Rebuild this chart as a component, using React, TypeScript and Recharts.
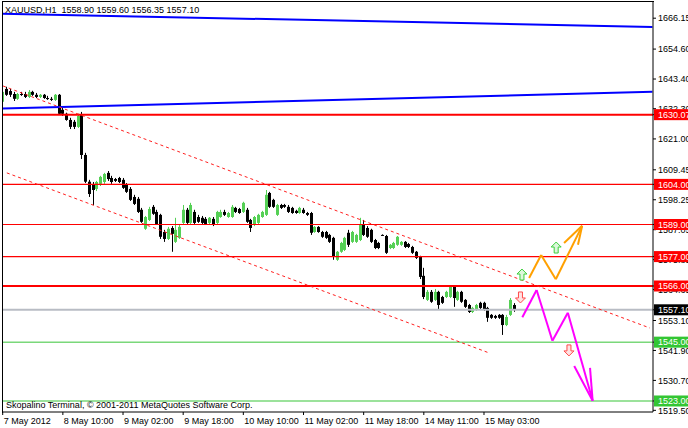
import React from "react";
import { ComposedChart, Bar, XAxis, YAxis, ReferenceLine, ReferenceDot } from "recharts";

const FONT = "'Liberation Sans', Arial, sans-serif";
const BULL = "#55d055";

// XAUUSD H1 bars, 7 May 18:00 .. 15 May 11:00 -> [open, high, low, close]
const ohlc: number[][] = [
  [1634.9, 1639.3, 1634.1, 1638.6], [1639.7, 1640.5, 1637.1, 1637.5], [1638.9, 1639.7, 1636.7, 1637.5],
  [1637.8, 1638.6, 1635.2, 1636.0], [1636.0, 1638.2, 1635.6, 1637.8], [1637.8, 1638.6, 1637.1, 1637.5],
  [1637.8, 1638.6, 1636.3, 1636.7], [1636.7, 1639.3, 1636.3, 1638.6], [1638.6, 1639.0, 1637.1, 1637.5],
  [1637.5, 1638.2, 1636.3, 1636.7], [1636.7, 1637.8, 1636.3, 1637.5], [1637.5, 1637.8, 1636.0, 1636.3],
  [1636.3, 1637.1, 1635.6, 1635.9], [1636.0, 1636.7, 1635.2, 1635.6], [1635.6, 1637.8, 1635.2, 1637.5],
  [1637.5, 1637.8, 1630.0, 1630.4], [1631.9, 1632.6, 1629.6, 1630.4], [1630.4, 1630.8, 1627.8, 1628.1],
  [1628.1, 1628.9, 1624.7, 1625.5], [1627.4, 1628.1, 1624.7, 1625.5], [1625.5, 1630.4, 1625.1, 1629.6],
  [1630.0, 1631.1, 1613.5, 1615.0], [1615.0, 1615.8, 1604.5, 1605.0], [1605.0, 1605.7, 1599.3, 1600.4],
  [1603.8, 1604.9, 1596.3, 1601.9], [1602.3, 1605.3, 1601.5, 1604.9], [1604.2, 1607.2, 1603.4, 1606.8],
  [1604.9, 1608.3, 1604.2, 1607.9], [1608.3, 1609.0, 1605.3, 1606.0], [1606.4, 1607.2, 1604.2, 1604.9],
  [1606.0, 1606.4, 1604.9, 1605.3], [1606.4, 1606.8, 1604.5, 1604.9], [1605.7, 1606.4, 1602.3, 1602.7],
  [1603.8, 1604.5, 1600.8, 1601.2], [1602.3, 1603.0, 1597.8, 1598.2], [1599.3, 1600.1, 1596.3, 1596.7],
  [1598.6, 1599.3, 1593.3, 1593.7], [1594.5, 1595.2, 1589.6, 1590.0], [1587.4, 1592.2, 1587.0, 1591.8],
  [1590.7, 1595.6, 1590.3, 1594.8], [1595.6, 1596.3, 1592.6, 1593.0], [1593.7, 1594.5, 1588.8, 1589.2],
  [1592.6, 1593.0, 1583.6, 1584.4], [1586.2, 1587.0, 1582.5, 1583.6], [1583.6, 1588.1, 1583.2, 1587.4],
  [1587.7, 1588.4, 1578.8, 1585.5], [1582.5, 1591.5, 1582.1, 1587.0], [1584.0, 1588.8, 1583.6, 1588.1],
  [1589.6, 1596.3, 1589.2, 1594.5], [1594.5, 1595.2, 1589.2, 1589.6], [1589.6, 1597.1, 1589.2, 1596.3],
  [1593.7, 1594.5, 1589.2, 1589.6], [1591.8, 1592.6, 1589.6, 1590.0], [1591.5, 1592.2, 1589.2, 1589.6],
  [1591.1, 1591.8, 1588.8, 1589.2], [1589.6, 1591.8, 1589.2, 1591.5], [1591.1, 1591.8, 1588.4, 1588.8],
  [1589.6, 1594.1, 1589.2, 1593.7], [1591.8, 1594.5, 1591.5, 1593.7], [1593.7, 1594.5, 1592.2, 1592.6],
  [1591.8, 1593.7, 1591.5, 1593.3], [1591.8, 1596.3, 1591.5, 1595.6], [1595.2, 1595.6, 1593.3, 1593.7],
  [1594.8, 1595.2, 1593.0, 1593.3], [1593.7, 1597.5, 1593.3, 1597.1], [1594.5, 1595.2, 1589.6, 1590.0],
  [1590.7, 1591.1, 1586.2, 1587.7], [1588.8, 1592.2, 1588.4, 1591.8], [1589.6, 1593.0, 1589.2, 1592.6],
  [1591.8, 1594.1, 1591.5, 1593.7], [1592.6, 1601.9, 1592.2, 1600.1], [1600.8, 1601.2, 1595.2, 1595.6],
  [1598.2, 1598.6, 1595.2, 1595.6], [1592.6, 1596.7, 1592.2, 1596.3], [1596.3, 1596.7, 1594.8, 1595.2],
  [1596.3, 1596.7, 1595.2, 1595.6], [1595.6, 1596.3, 1593.3, 1593.7], [1595.2, 1595.6, 1593.0, 1593.3],
  [1594.1, 1594.5, 1593.0, 1593.3], [1593.3, 1595.6, 1593.0, 1595.2], [1594.5, 1595.2, 1593.0, 1593.3],
  [1593.3, 1593.7, 1592.2, 1592.6], [1593.3, 1593.7, 1585.1, 1585.9], [1586.2, 1588.4, 1585.9, 1588.1],
  [1588.1, 1588.4, 1585.9, 1586.2], [1586.2, 1586.6, 1584.0, 1584.4], [1586.2, 1586.6, 1583.6, 1584.0],
  [1585.1, 1585.5, 1582.1, 1582.5], [1584.0, 1584.4, 1575.8, 1576.9], [1575.8, 1579.1, 1575.4, 1578.8],
  [1578.8, 1582.5, 1578.4, 1582.1], [1579.5, 1584.4, 1579.1, 1584.0], [1585.9, 1587.0, 1580.6, 1581.4],
  [1582.5, 1586.6, 1582.1, 1586.2], [1582.5, 1585.5, 1582.1, 1585.1], [1583.2, 1591.5, 1582.8, 1588.8],
  [1588.8, 1590.7, 1584.7, 1585.1], [1587.7, 1588.4, 1584.0, 1584.4], [1587.0, 1587.4, 1582.1, 1582.5],
  [1583.2, 1583.6, 1579.8, 1580.2], [1582.1, 1582.5, 1579.8, 1580.2], [1585.1, 1585.3, 1584.9, 1585.0],
  [1584.7, 1585.1, 1578.0, 1578.4], [1580.2, 1581.7, 1579.8, 1581.4], [1580.2, 1582.5, 1579.8, 1582.1],
  [1581.4, 1584.7, 1581.0, 1584.4], [1581.4, 1582.8, 1581.0, 1582.5], [1582.5, 1582.8, 1580.2, 1580.6],
  [1581.7, 1582.1, 1580.2, 1580.6], [1580.6, 1581.0, 1578.0, 1578.4], [1578.8, 1579.1, 1576.1, 1576.5],
  [1576.9, 1577.3, 1568.6, 1569.4], [1569.8, 1572.8, 1561.1, 1561.9], [1560.8, 1564.5, 1560.4, 1563.8],
  [1563.8, 1564.5, 1559.7, 1560.1], [1560.8, 1564.9, 1560.4, 1563.8], [1563.8, 1564.2, 1557.1, 1558.9],
  [1561.9, 1562.3, 1559.3, 1559.7], [1561.9, 1564.2, 1561.5, 1563.8], [1561.9, 1566.1, 1561.5, 1565.7],
  [1565.7, 1566.1, 1558.2, 1561.5], [1560.8, 1564.2, 1560.4, 1563.8], [1563.8, 1564.2, 1559.7, 1560.1],
  [1560.8, 1561.1, 1557.8, 1558.2], [1558.9, 1559.3, 1555.9, 1556.3], [1556.3, 1558.2, 1555.9, 1557.8],
  [1557.1, 1559.3, 1556.7, 1558.9], [1559.7, 1560.1, 1557.4, 1557.8], [1559.7, 1560.1, 1556.7, 1557.1],
  [1557.8, 1558.2, 1552.6, 1554.1], [1555.2, 1555.5, 1553.7, 1554.1], [1554.8, 1555.2, 1553.7, 1554.1],
  [1555.2, 1555.5, 1553.7, 1554.1], [1555.2, 1555.5, 1547.7, 1551.4], [1551.4, 1555.2, 1551.0, 1554.4],
  [1555.2, 1561.5, 1554.8, 1560.8], [1558.9, 1559.6, 1556.35, 1557.1],
];

const timeTicks = [0, 16, 32, 48, 64, 80, 96, 112, 128];
const timeLabels = ["7 May 2012", "8 May 10:00", "9 May 02:00", "9 May 18:00", "10 May 10:00", "11 May 02:00", "11 May 18:00", "14 May 11:00", "15 May 03:00"];

const priceTicks = [1666.15, 1654.6, 1643.4, 1632.3, 1621.0, 1609.45, 1598.25, 1587.05, 1575.85, 1564.65, 1553.1, 1541.9, 1530.7, 1519.5];

const resistanceLevels = [1630.07, 1604.0, 1589.0, 1577.0, 1566.0];
const heavyLevels = [1630.07, 1566.0];
const supportLevels = [1545.0, 1523.0];
const lastPrice = 1557.1;

// trend lines, bar index / price
const blueUpper = [{ i: -0.1, v: 1667.8 }, { i: 172.8, v: 1662.9 }];
const blueLower = [{ i: -0.1, v: 1632.4 }, { i: 172.8, v: 1638.6 }];
const channelUpper = [{ i: 0.1, v: 1640.8 }, { i: 172.1, v: 1550.3 }];
const channelLower = [{ i: 1.1, v: 1608.3 }, { i: 129.3, v: 1541.0 }];

const bullPath = [{ i: 140.0, v: 1569.0 }, { i: 143.2, v: 1577.6 }, { i: 147.1, v: 1568.5 }, { i: 154.1, v: 1588.5 }];
const bullHead = [{ i: 149.3, v: 1582.1 }, { i: 153.0, v: 1581.4 }];
const bearPath = [{ i: 138.2, v: 1554.3 }, { i: 142.0, v: 1564.5 }, { i: 146.2, v: 1545.5 }, { i: 150.3, v: 1556.0 }, { i: 156.9, v: 1523.1 }];
const bearHead = [{ i: 152.0, v: 1536.1 }, { i: 156.2, v: 1535.4 }];

const upArrows = [{ i: 138.1, v: 1570.1 }, { i: 147.2, v: 1580.2 }];
const downArrows = [{ i: 137.7, v: 1561.9 }, { i: 150.6, v: 1542.1 }];

const candles = ohlc.map(([o, h, l, c], i) => ({ i, o, h, l, c }));

const tagFor = (v: number) => {
  if (resistanceLevels.includes(v)) return { bg: "#ff0000", fg: "#fff" };
  if (supportLevels.includes(v)) return { bg: "#33c633", fg: "#fff" };
  if (v === lastPrice) return { bg: "#000", fg: "#fff" };
  return null;
};

const Candle = (props: any) => {
  const { x, y, width, height, payload } = props;
  if (!payload) return null;
  const { o, h, l, c } = payload;
  const top = Math.min(y, y + height);
  const bot = Math.max(y, y + height);
  const px = (v: number) => (h === l ? top : top + ((h - v) / (h - l)) * (bot - top));
  const cx = Math.round(x + width / 2) + 0.5;
  const color = c >= o ? BULL : "#000";
  const bTop = px(Math.max(o, c));
  const bBot = px(Math.min(o, c));
  return (
    <g>
      <line x1={cx} x2={cx} y1={top} y2={Math.max(bot, top + 1)} stroke={color} strokeWidth={1} />
      <rect x={cx - 1.5} y={bTop} width={3} height={Math.max(1, bBot - bTop)} fill={color} />
    </g>
  );
};

const PriceTick = ({ x, y, payload }: any) => {
  const v = payload.value;
  const tag = tagFor(v);
  if (tag) {
    return (
      <g>
        <rect x={x - 4} y={y - 5.5} width={40} height={11} fill={tag.bg} />
        <text x={x} y={y + 3.3} fill={tag.fg} fontSize={9} fontFamily={FONT}>{v.toFixed(2)}</text>
      </g>
    );
  }
  return (
    <text x={x} y={y + 3.3} fill="#000" fontSize={9} fontFamily={FONT}>{v.toFixed(2)}</text>
  );
};

const TimeTick = ({ x, y, payload }: any) => {
  const k = timeTicks.indexOf(payload.value);
  return (
    <text x={x + 1} y={y + 6.5} fill="#000" fontSize={9} fontFamily={FONT}>{timeLabels[k]}</text>
  );
};

const ArrowMark = ({ cx, cy, up }: any) => {
  const s = up ? 1 : -1;
  const pts = [[0, -6], [5, -1], [2, -1], [2, 5], [-2, 5], [-2, -1], [-5, -1]]
    .map(([a, b]) => `${cx + a},${cy + b * s}`).join(" ");
  return (
    <polygon points={pts} fill={up ? "#dcf7dc" : "#ffe2e2"} stroke={up ? "#3ccf3c" : "#ff4a4a"} strokeWidth={1} />
  );
};

const segs = (pts: { i: number; v: number }[]) =>
  pts.slice(1).map((p, k) => [{ x: pts[k].i, y: pts[k].v }, { x: p.i, y: p.v }]);

const headSegs = (tip: { i: number; v: number }, head: { i: number; v: number }[]) =>
  head.map((p) => [{ x: p.i, y: p.v }, { x: tip.i, y: tip.v }]);

export default function App() {
  const bullTip = bullPath[bullPath.length - 1];
  const bearTip = bearPath[bearPath.length - 1];
  return (
    <div style={{ position: "absolute", left: 0, top: 0, width: 688, height: 428, background: "#fff" }}>
      <ComposedChart width={688} height={428} data={candles} margin={{ top: 1, right: 0, left: 2, bottom: 0 }}>
        <XAxis
          dataKey="i"
          type="number"
          domain={[-0.186, 172.95]}
          allowDataOverflow
          ticks={timeTicks}
          interval={0}
          height={16}
          stroke="#000"
          tickSize={3}
          tickMargin={2}
          tick={<TimeTick />}
        />
        <YAxis
          orientation="right"
          type="number"
          domain={[1518.88, 1672.58]}
          allowDataOverflow
          ticks={[...priceTicks, lastPrice, ...supportLevels, ...resistanceLevels]}
          interval={0}
          width={35}
          stroke="#000"
          tickSize={3}
          tickMargin={2}
          tick={<PriceTick />}
        />
        <ReferenceLine segment={blueUpper.map((p) => ({ x: p.i, y: p.v }))} stroke="#0000ff" strokeWidth={2} />
        <ReferenceLine segment={blueLower.map((p) => ({ x: p.i, y: p.v }))} stroke="#0000ff" strokeWidth={2} />
        {resistanceLevels.map((v) => (
          <ReferenceLine key={"r" + v} y={v} stroke="#ff0000" strokeWidth={heavyLevels.includes(v) ? 2 : 1.2} />
        ))}
        {supportLevels.map((v) => (
          <ReferenceLine key={"s" + v} y={v} stroke="#7ad87a" strokeWidth={1.5} />
        ))}
        <ReferenceLine y={lastPrice} stroke="#b8bcc4" strokeWidth={2} />
        <ReferenceLine segment={channelUpper.map((p) => ({ x: p.i, y: p.v }))} stroke="#ff2020" strokeWidth={1} strokeDasharray="3 3" />
        <ReferenceLine segment={channelLower.map((p) => ({ x: p.i, y: p.v }))} stroke="#ff2020" strokeWidth={1} strokeDasharray="3 3" />
        <Bar dataKey={(d: any) => [d.l, d.h]} barSize={3} shape={<Candle />} isAnimationActive={false} />
        {[...segs(bullPath), ...headSegs(bullTip, bullHead)].map((s, k) => (
          <ReferenceLine key={"b" + k} segment={s} stroke="#ffa000" strokeWidth={2} />
        ))}
        {[...segs(bearPath), ...headSegs(bearTip, bearHead)].map((s, k) => (
          <ReferenceLine key={"m" + k} segment={s} stroke="#ff00ff" strokeWidth={2} />
        ))}
        {upArrows.map((p, k) => (
          <ReferenceDot key={"u" + k} x={p.i} y={p.v} shape={(pr: any) => <ArrowMark cx={pr.cx} cy={pr.cy} up />} />
        ))}
        {downArrows.map((p, k) => (
          <ReferenceDot key={"d" + k} x={p.i} y={p.v} shape={(pr: any) => <ArrowMark cx={pr.cx} cy={pr.cy} up={false} />} />
        ))}
      </ComposedChart>
      <div style={{ position: "absolute", left: 2, top: 1, width: 651, height: 411, borderLeft: "1px solid #000", borderTop: "1px solid #000", pointerEvents: "none" }} />
      <div style={{ position: "absolute", left: 5, top: 4, fontFamily: FONT, fontSize: 9, lineHeight: "12px", color: "#000", whiteSpace: "pre" }}>
        {"XAUUSD,H1  1558.90 1559.60 1556.35 1557.10"}
      </div>
      <div style={{ position: "absolute", left: 6, top: 399, fontFamily: FONT, fontSize: 9, lineHeight: "12px", color: "#000", whiteSpace: "pre" }}>
        {"Skopalino Terminal, © 2001-2011 MetaQuotes Software Corp."}
      </div>
    </div>
  );
}
